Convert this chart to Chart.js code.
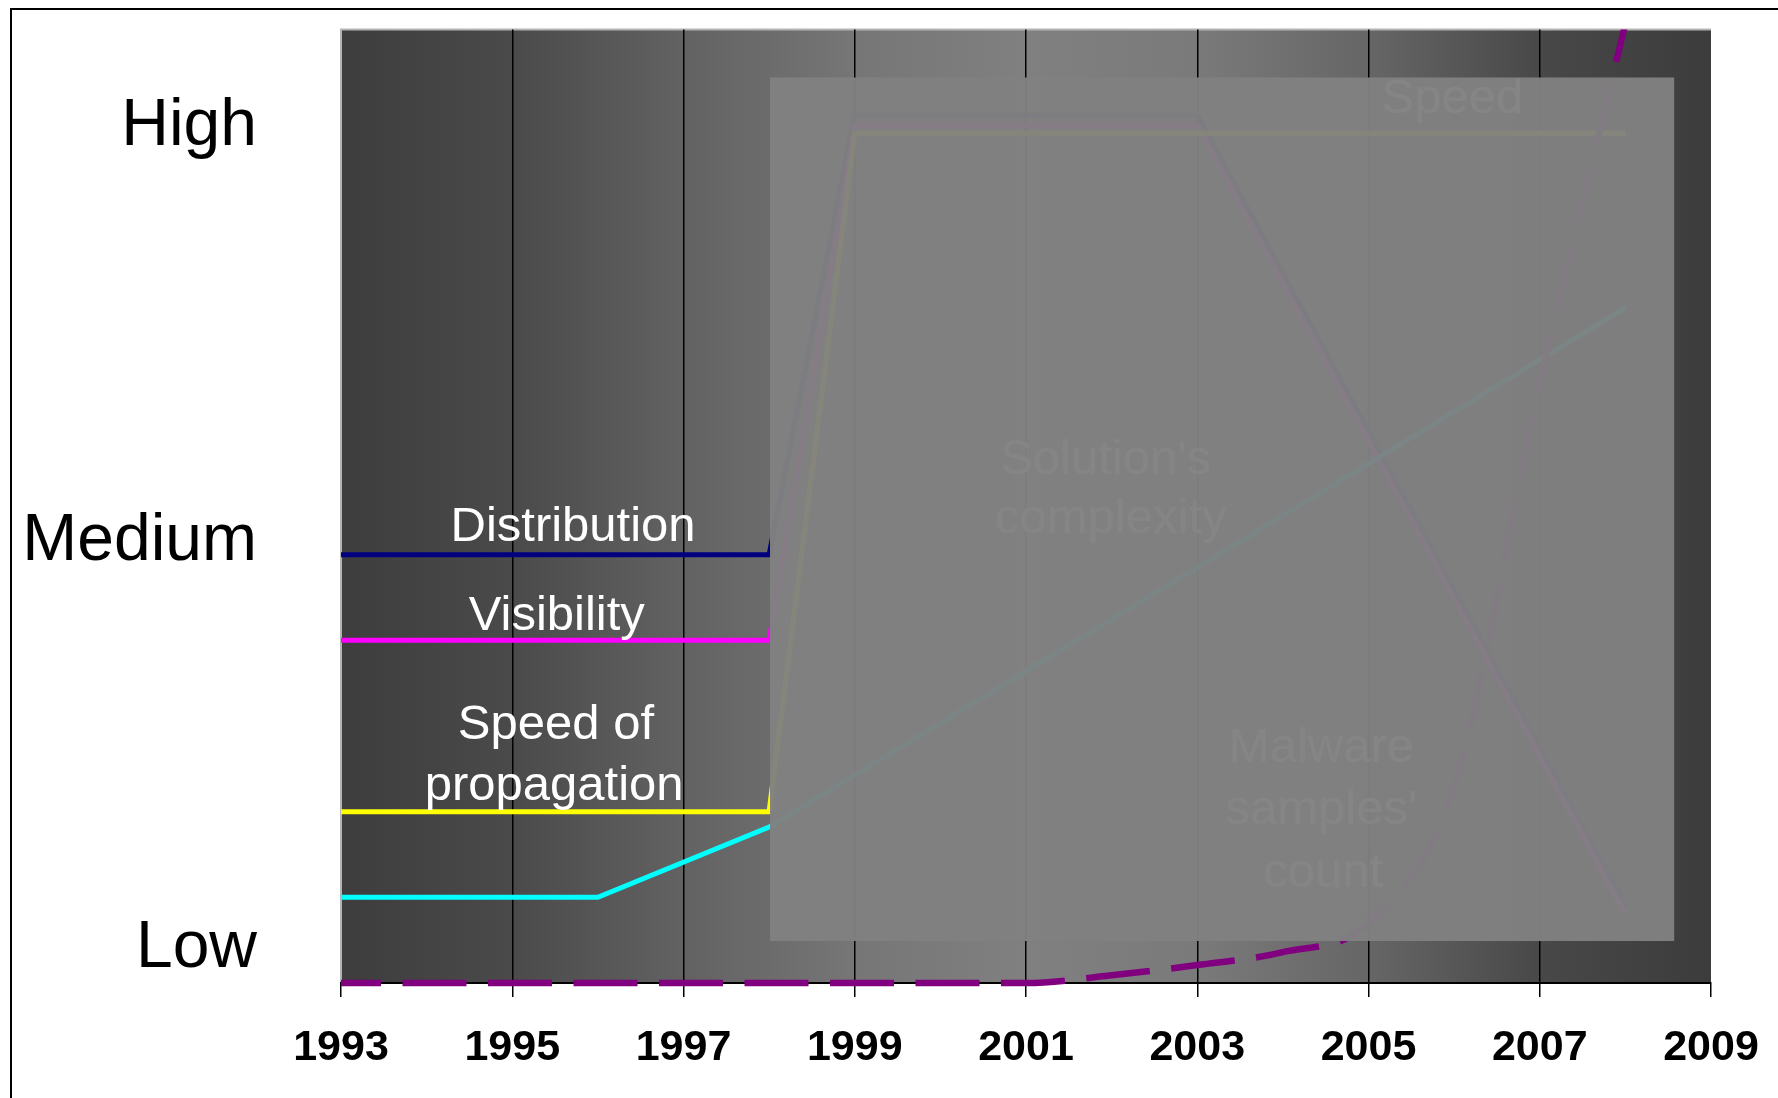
<!DOCTYPE html>
<html>
<head>
<meta charset="utf-8">
<script src="https://cdn.jsdelivr.net/npm/chart.js@4.4.1/dist/chart.umd.min.js"></script>
<style>
html,body{margin:0;padding:0;background:#fff;overflow:hidden}
#wrap{position:relative;width:1778px;height:1098px}
</style>
</head>
<body>
<div id="wrap"><canvas id="chart"></canvas></div>
<script>
// x = year, y = level (0 is the "low" line, each line step is 1)
const yearTicks = [1993,1995,1997,1999,2001,2003,2005,2007,2009];
const levelLabels = ["Low","Medium","High"];
const levelValues = [0.4,5.15,10];

const distributionYears = [1993,1998,1999,2003,2008];
const distributionValues = [5,5,10.13,10.13,0.9];
const visibilityYears = [1993,1998,1999,2003,2008];
const visibilityValues = [4,4,10.01,10.01,0.8];
const speedYears = [1993,1998,1999,2008];
const speedValues = [2,2,9.92,9.92];
const complexityYears = [1993,1996,1998,2008];
const complexityValues = [1,1,1.82,7.88];
const malwareYears = [1993,1994,1995,1996,1997,1998,1999,2000,2001,2002,2003,2004,2005,2006,2007,2008];
const malwareValues = [0,0,0,0,0,0,0,0,0,0.09,0.21,0.36,0.7,2.3,7.0,11.2];

const FONT = "'Liberation Sans', Arial, sans-serif";

function pts(xs, ys){ return xs.map((x,i)=>({x:x, y:ys[i]})); }

// labels that sit on the left part of the chart
const shownLabels = [
  {text:"Distribution", x:1995.71, y:5.16},
  {text:"Visibility", x:1995.52, y:4.12},
  {text:"Speed of", x:1995.51, y:2.85},
  {text:"propagation", x:1995.49, y:2.14}
];
// labels hidden under the grey panel
const coveredLabels = [
  {text:"Speed", x:2005.98, y:10.15},
  {text:"Solution's", x:2001.93, y:5.94},
  {text:"complexity", x:2001.99, y:5.25},
  {text:"Malware", x:2004.45, y:2.58},
  {text:"samples'", x:2004.45, y:1.86},
  {text:"count", x:2004.47, y:1.12}
];
const panel = {x0:1998.01, x1:2008.57, y0:0.49, y1:10.57};

const backdrop = {
  id:'backdrop',
  beforeDraw(chart){
    const {ctx, chartArea:a} = chart;
    ctx.save();
    ctx.fillStyle='#fff';
    ctx.fillRect(0,0,chart.width,chart.height);
    ctx.strokeStyle='#000'; ctx.lineWidth=2;
    ctx.beginPath(); ctx.moveTo(11,chart.height); ctx.lineTo(11,9); ctx.lineTo(chart.width,9); ctx.stroke();
    const g = ctx.createLinearGradient(a.left,0,a.right,0);
    g.addColorStop(0,'#3d3d3d');
    g.addColorStop(0.125,'#4a4a4a');
    g.addColorStop(0.25,'#626262');
    g.addColorStop(0.375,'#767676');
    g.addColorStop(0.5,'#808080');
    g.addColorStop(0.625,'#7a7a7a');
    g.addColorStop(0.75,'#666666');
    g.addColorStop(0.875,'#484848');
    g.addColorStop(1,'#3c3c3c');
    ctx.fillStyle=g;
    ctx.fillRect(a.left,a.top,a.right-a.left,a.bottom-a.top);
    ctx.strokeStyle='#b4b4b4'; ctx.lineWidth=2;
    ctx.beginPath(); ctx.moveTo(a.left,a.bottom); ctx.lineTo(a.left,a.top); ctx.lineTo(a.right,a.top); ctx.stroke();
    ctx.restore();
  }
};

function drawLabels(ctx, chart, list, color){
  const xs = chart.scales.x, ys = chart.scales.y;
  ctx.fillStyle = color;
  ctx.font = "49px " + FONT;
  ctx.textAlign = 'center';
  ctx.textBaseline = 'alphabetic';
  list.forEach(l => ctx.fillText(l.text, xs.getPixelForValue(l.x), ys.getPixelForValue(l.y)));
}

const overlay = {
  id:'overlay',
  afterDatasetsDraw(chart){
    const ctx = chart.ctx, xs = chart.scales.x, ys = chart.scales.y;
    ctx.save();
    drawLabels(ctx, chart, coveredLabels, '#fff');
    const l = xs.getPixelForValue(panel.x0), r = xs.getPixelForValue(panel.x1);
    const t = ys.getPixelForValue(panel.y1), b = ys.getPixelForValue(panel.y0);
    ctx.globalAlpha = 0.965;
    ctx.fillStyle = '#818181';
    ctx.fillRect(l,t,r-l,b-t);
    ctx.globalAlpha = 1;
    drawLabels(ctx, chart, shownLabels, '#fff');
    ctx.restore();
  }
};

function series(label, xs, ys, color, extra){
  return Object.assign({
    label: label,
    data: pts(xs, ys),
    borderColor: color,
    backgroundColor: color,
    borderWidth: 5,
    pointRadius: 0,
    tension: 0,
    fill: false
  }, extra || {});
}

new Chart(document.getElementById('chart').getContext('2d'), {
  type: 'line',
  data: {
    datasets: [
      series("Malware samples' count", malwareYears, malwareValues, '#800080',
        {borderWidth:6.5, borderDash:[64,21.5], borderDashOffset:24, cubicInterpolationMode:'monotone',
         clip:{left:0, top:0, right:0, bottom:6}}),
      series("Solution's complexity", complexityYears, complexityValues, '#00ffff'),
      series("Speed of propagation", speedYears, speedValues, '#ffff00'),
      series("Visibility", visibilityYears, visibilityValues, '#ff00ff'),
      series("Distribution", distributionYears, distributionValues, '#000080')
    ]
  },
  options: {
    responsive: true,
    maintainAspectRatio: false,
    animation: false,
    layout: { padding: {top:29.5, right:67, bottom:0, left:0} },
    plugins: { legend:{display:false}, tooltip:{enabled:false}, title:{display:false} },
    scales: {
      x: {
        type: 'linear',
        min: 1993, max: 2009,
        afterBuildTicks: s => { s.ticks = yearTicks.map(v => ({value:v})); },
        afterFit: s => { s.height = 115; s.paddingLeft = 0; s.paddingRight = 0; },
        ticks: {
          color:'#000',
          font:{family:FONT, size:43, weight:'bold'},
          padding: 25,
          maxRotation: 0,
          autoSkip: false,
          callback: v => String(v)
        },
        grid: {
          color: c => (c.tick && (c.tick.value === 1993 || c.tick.value === 2009)) ? 'rgba(0,0,0,0)' : '#000',
          lineWidth: 1.5,
          tickColor: '#000',
          tickLength: 14,
          drawTicks: true
        },
        border: { color:'#000', width:2 }
      },
      y: {
        min: 0, max: 11.13,
        afterBuildTicks: s => { s.ticks = levelValues.map(v => ({value:v})); },
        afterFit: s => { s.width = 341; s.paddingTop = 0; s.paddingBottom = 0; },
        ticks: {
          color:'#000',
          font:{family:FONT, size:66, lineHeight:0.6},
          padding: 84,
          autoSkip: false,
          callback: (v, i) => levelLabels[i]
        },
        grid: { display:false, drawTicks:false },
        border: { display:false }
      }
    }
  },
  plugins: [backdrop, overlay]
});
</script>
</body>
</html>
